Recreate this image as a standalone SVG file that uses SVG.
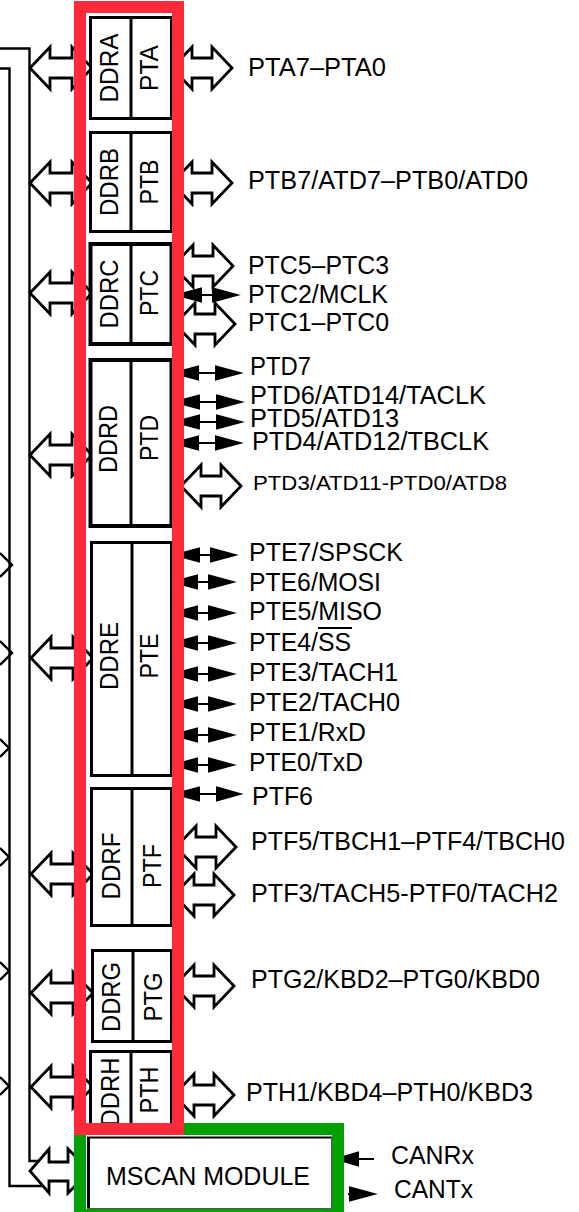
<svg xmlns="http://www.w3.org/2000/svg" xmlns:xlink="http://www.w3.org/1999/xlink" width="579" height="1212" viewBox="0 0 579 1212">
<style>
text{font-family:"Liberation Sans",Arial,sans-serif;font-size:26px;fill:#000}
.v{text-anchor:middle}
.h{fill:#fff;stroke:#000;stroke-width:2.8}
.s{fill:none;stroke:#000;stroke-width:2.4}
.p{fill:#fff;stroke:#000;stroke-width:3}
.dv{stroke:#000;stroke-width:3}
.b{fill:#000;stroke:#000;stroke-width:2}
</style>
<defs>
<path id="hl" d="M30 0L50-21V-10H72V-21L92 0L72 21V10H50V21Z"/>
<path id="hr" d="M172 0L192-21V-10H212V-21L232 0L212 21V10H192V21Z"/>
<path id="be" d="M173 0L197-6.5V6.5ZM197 0H209M209-6.5L233 0L209 6.5Z"/>
<path id="bd" d="M174 0L198-6.5V6.5ZM198 0H216M216-6.5L240 0L216 6.5Z"/>
</defs>
<rect width="579" height="1212" fill="#fff"/>
<g id="connectors">
<path class="s" d="M0 68.5H9.5V1186H42M0 48.5H29.5V1161H42"/>
<path class="s" d="M0 553L12 565L0 577M0 641L12 653L0 665M0 739L9 748L0 757M0 848L9 857L0 866M0 962L9 971L0 980M0 1077L9 1086L0 1095"/>
<use href="#hl" class="h" y="68"/>
<use href="#hl" class="h" y="183"/>
<use href="#hl" class="h" y="293"/>
<use href="#hl" class="h" y="455"/>
<use href="#hl" class="h" x="1" y="658"/>
<use href="#hl" class="h" x="1" y="874"/>
<use href="#hl" class="h" x="1" y="993"/>
<use href="#hl" class="h" x="1" y="1087"/>
<path class="h" d="M30 1171L49 1149V1162H68V1149L90 1171L68 1193V1181H49V1193Z"/>
<use href="#hr" class="h" y="68"/>
<use href="#hr" class="h" y="183"/>
<use href="#hr" class="h" x="1" y="266"/>
<use href="#hr" class="h" x="3" y="324"/>
<use href="#hr" class="h" x="9" y="486"/>
<use href="#hr" class="h" x="4" y="847"/>
<use href="#hr" class="h" x="2" y="895"/>
<use href="#hr" class="h" x="2" y="986"/>
<use href="#hr" class="h" x="2" y="1095"/>
<g class="b">
<path d="M177 295L201 288.500V301.500ZM201 295H213M213 288.500L237 295L213 301.500Z"/>
<use href="#bd" y="373"/>
<use href="#bd" x="1" y="402"/>
<use href="#bd" x="1" y="422"/>
<use href="#bd" y="443"/>
<use href="#be" x="2" y="555"/>
<use href="#be" y="582"/>
<use href="#be" y="613"/>
<use href="#be" y="643"/>
<use href="#be" y="674"/>
<use href="#be" y="704"/>
<use href="#be" y="735"/>
<use href="#be" y="765"/>
<path d="M175 794L199 787.500V800.500ZM199 794H217M217 787.500L240 794L217 800.500Z"/>
<path d="M336 1159L358 1152.500V1165.500ZM358 1159H374"/>
<path d="M348 1194H350M350 1187.500L374 1194L350 1200.500Z"/>
</g>
</g>
<g id="port-a"><rect class="p" x="90.5" y="17.5" width="81" height="101"/><path class="dv" d="M131 17V119"/>
<text class="v" transform="translate(118 68) rotate(-90)" textLength="69" lengthAdjust="spacingAndGlyphs">DDRA</text><text class="v" transform="translate(158 68) rotate(-90)" textLength="46" lengthAdjust="spacingAndGlyphs">PTA</text></g>
<g id="port-b"><rect class="p" x="90.5" y="132.5" width="81" height="99"/><path class="dv" d="M131 132V231"/>
<text class="v" transform="translate(118 182) rotate(-90)" textLength="68" lengthAdjust="spacingAndGlyphs">DDRB</text><text class="v" transform="translate(158 182) rotate(-90)" textLength="45" lengthAdjust="spacingAndGlyphs">PTB</text></g>
<g id="port-c"><rect class="p" x="90.5" y="244" width="81" height="100" style="stroke-width:4"/><path class="dv" d="M131 244V344"/>
<text class="v" transform="translate(118 294) rotate(-90)" textLength="69" lengthAdjust="spacingAndGlyphs">DDRC</text><text class="v" transform="translate(158 293) rotate(-90)" textLength="46" lengthAdjust="spacingAndGlyphs">PTC</text></g>
<g id="port-d"><rect class="p" x="90.5" y="360" width="81" height="166" style="stroke-width:4"/><path class="dv" d="M131 360V526"/>
<text class="v" transform="translate(117 439) rotate(-90)" textLength="68" lengthAdjust="spacingAndGlyphs">DDRD</text><text class="v" transform="translate(158 438) rotate(-90)" textLength="46" lengthAdjust="spacingAndGlyphs">PTD</text></g>
<g id="port-e"><rect class="p" x="91.5" y="542.5" width="80" height="233"/><path class="dv" d="M132 543V776"/>
<text class="v" transform="translate(118 656) rotate(-90)" textLength="68" lengthAdjust="spacingAndGlyphs">DDRE</text><text class="v" transform="translate(158 656) rotate(-90)" textLength="45" lengthAdjust="spacingAndGlyphs">PTE</text></g>
<g id="port-f"><rect class="p" x="91.5" y="788.5" width="80" height="137"/><path class="dv" d="M132 789V926"/>
<text class="v" transform="translate(120 866) rotate(-90)" textLength="67" lengthAdjust="spacingAndGlyphs">DDRF</text><text class="v" transform="translate(161 866) rotate(-90)" textLength="44" lengthAdjust="spacingAndGlyphs">PTF</text></g>
<g id="port-g"><rect class="p" x="92.5" y="950.5" width="79" height="91"/><path class="dv" d="M133 950V1042"/>
<text class="v" transform="translate(120 997) rotate(-90)" textLength="70" lengthAdjust="spacingAndGlyphs">DDRG</text><text class="v" transform="translate(162 997) rotate(-90)" textLength="49" lengthAdjust="spacingAndGlyphs">PTG</text></g>
<g id="port-h"><rect class="p" x="90.5" y="1051.5" width="81" height="90"/><path class="dv" d="M131 1051V1141"/>
<text class="v" transform="translate(119 1092) rotate(-90)" textLength="69" lengthAdjust="spacingAndGlyphs">DDRH</text><text class="v" transform="translate(158 1090) rotate(-90)" textLength="47" lengthAdjust="spacingAndGlyphs">PTH</text></g>
<g id="mscan">
<rect x="80" y="1129" width="258" height="86" fill="#fff" stroke="#00a000" stroke-width="12"/>
<path d="M88.500 1137V1209" stroke="#000" stroke-width="3"/><path d="M87 1137.500H332" stroke="#000" stroke-width="2"/><path d="M331.500 1137V1209M87 1208.500H332" stroke="#555" stroke-width="1" fill="none"/>
<text x="106" y="1185" textLength="204" lengthAdjust="spacingAndGlyphs">MSCAN MODULE</text>
</g>
<g id="frame"><rect x="80" y="7" width="98" height="1122" fill="none" stroke="#ff2a3a" stroke-width="12"/></g>
<g id="labels">
<text x="248" y="76" textLength="138" lengthAdjust="spacingAndGlyphs">PTA7–PTA0</text>
<text x="248" y="189" textLength="280" lengthAdjust="spacingAndGlyphs">PTB7/ATD7–PTB0/ATD0</text>
<text x="248" y="274" textLength="141" lengthAdjust="spacingAndGlyphs">PTC5–PTC3</text>
<text x="248" y="303" textLength="140" lengthAdjust="spacingAndGlyphs">PTC2/MCLK</text>
<text x="248" y="331" textLength="141" lengthAdjust="spacingAndGlyphs">PTC1–PTC0</text>
<text x="250" y="375" textLength="61" lengthAdjust="spacingAndGlyphs">PTD7</text>
<text x="250" y="404" textLength="236" lengthAdjust="spacingAndGlyphs">PTD6/ATD14/TACLK</text>
<text x="250" y="427" textLength="149" lengthAdjust="spacingAndGlyphs">PTD5/ATD13</text>
<text x="252" y="450" textLength="237" lengthAdjust="spacingAndGlyphs">PTD4/ATD12/TBCLK</text>
<text x="253" y="490" textLength="254" lengthAdjust="spacingAndGlyphs" style="font-size:20px">PTD3/ATD11-PTD0/ATD8</text>
<text x="249" y="561" textLength="154" lengthAdjust="spacingAndGlyphs">PTE7/SPSCK</text>
<text x="249" y="591" textLength="132" lengthAdjust="spacingAndGlyphs">PTE6/MOSI</text>
<text x="249" y="620" textLength="133" lengthAdjust="spacingAndGlyphs">PTE5/MISO</text>
<text x="249" y="651" textLength="102" lengthAdjust="spacingAndGlyphs">PTE4/SS</text>
<path d="M318 628H352" stroke="#000" stroke-width="2"/>
<text x="249" y="681" textLength="149" lengthAdjust="spacingAndGlyphs">PTE3/TACH1</text>
<text x="249" y="711" textLength="151" lengthAdjust="spacingAndGlyphs">PTE2/TACH0</text>
<text x="249" y="741" textLength="117" lengthAdjust="spacingAndGlyphs">PTE1/RxD</text>
<text x="249" y="771" textLength="114" lengthAdjust="spacingAndGlyphs">PTE0/TxD</text>
<text x="252" y="805" textLength="61" lengthAdjust="spacingAndGlyphs">PTF6</text>
<text x="251" y="850" textLength="314" lengthAdjust="spacingAndGlyphs">PTF5/TBCH1–PTF4/TBCH0</text>
<text x="251" y="902" textLength="307" lengthAdjust="spacingAndGlyphs">PTF3/TACH5-PTF0/TACH2</text>
<text x="251" y="988" textLength="289" lengthAdjust="spacingAndGlyphs">PTG2/KBD2–PTG0/KBD0</text>
<text x="246" y="1101" textLength="287" lengthAdjust="spacingAndGlyphs">PTH1/KBD4–PTH0/KBD3</text>
<text x="391" y="1164" textLength="83" lengthAdjust="spacingAndGlyphs">CANRx</text>
<text x="394" y="1198" textLength="79" lengthAdjust="spacingAndGlyphs">CANTx</text>
</g>
</svg>
